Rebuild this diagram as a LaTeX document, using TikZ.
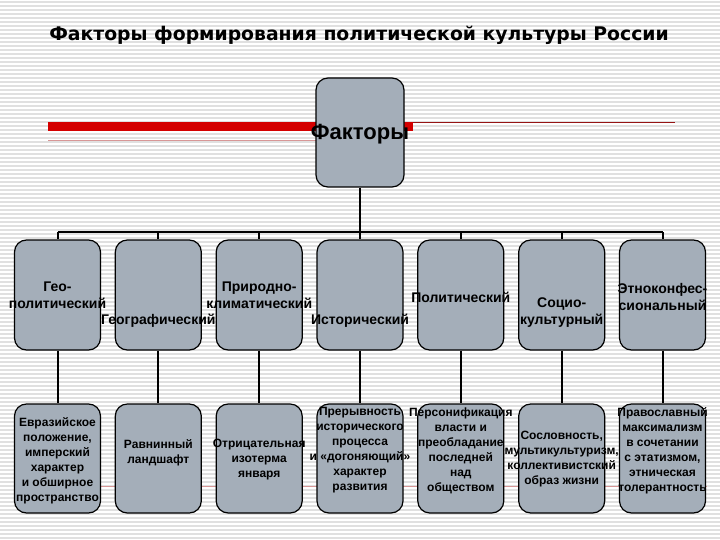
\documentclass[tikz,border=0pt]{standalone}
\usepackage{fontspec}
\setmainfont{Liberation Sans}
\newfontfamily\titlefont{DejaVu Sans}
\definecolor{boxfill}{RGB}{164,174,185}
\definecolor{barred}{RGB}{212,0,0}
\definecolor{thinred}{RGB}{150,20,20}
\definecolor{stripe}{RGB}{224,224,224}
\definecolor{faintred}{RGB}{215,150,150}
\begin{document}
\begin{tikzpicture}[x=1pt,y=-1pt,
  box/.style={draw=black, line width=1.2pt, fill=boxfill, rounded corners=12pt,
              minimum width=86pt, inner sep=0pt},
  toprow/.style={box, minimum height=110pt},
  botrow/.style={box, minimum height=109pt},
  lab/.style={inner sep=0pt, align=center, font=\bfseries\fontsize{14}{17}\selectfont},
  slab/.style={inner sep=0pt, align=center, font=\bfseries\fontsize{12}{15}\selectfont},
  conn/.style={draw=black, line width=2pt}]
\useasboundingbox (0,0) rectangle (720,540);
\fill[white] (0,0) rectangle (720,540);
\foreach \yy in {2,6,...,538} \draw[stripe, line width=1.2pt] (0,\yy) -- (720,\yy);

% title
\node[inner sep=0pt, font=\titlefont\bfseries\fontsize{18.8}{22}\selectfont] (title) at (359,35)
  {Факторы формирования политической культуры России};

% decorative lines
\draw[faintred, line width=0.8pt] (48,140) -- (316,140);
\fill[barred] (48,122) rectangle (413,131);
\draw[thinred, line width=1pt] (404,123) -- (675,123);
\draw[faintred, line width=0.8pt] (48,486) -- (707,486);

% centre box
\node[box, minimum width=88pt, minimum height=109pt] (f) at (360,132.5) {};
\fill[barred] (405,122) rectangle (413,131);
\node[inner sep=0pt, font=\bfseries\fontsize{22}{26}\selectfont] (ft) at (360,134) {Факторы};

% boxes
\foreach \i/\x in {1/57.5,2/158.3,3/259.2,4/360,5/460.8,6/561.7,7/662.5}{
  \node[toprow] (t\i) at (\x,295) {};
  \node[botrow] (b\i) at (\x,458.5) {};
}

\coordinate (bus) at (360,232);
\draw[conn] (f.south) -- (bus);
\draw[conn] (t1.north |- bus) -- (t7.north |- bus);
\foreach \i in {1,...,7}{
  \draw[conn] (t\i.north |- bus) -- (t\i.north);
  \draw[conn] (t\i.south) -- (b\i.north);
}

% top row labels
\node[lab] (l1) at (57.5,295.5) {Гео-\\политический};
\node[lab] (l2) at (158.3,321) {Географический};
\node[lab] (l3) at (259.2,295.5) {Природно-\\климатический};
\node[lab] (l4) at (360,321) {Исторический};
\node[lab] (l5) at (460.8,297) {Политический};
\node[lab] (l6) at (561.7,313) {Социо-\\культурный};
\node[lab] (l7) at (662.5,296.5) {Этноконфес-\\сиональный};

% bottom row labels
\node[slab] (m1) at (57.5,460.5) {Евразийское\\положение,\\имперский\\характер\\и обширное\\пространство};
\node[slab] (m2) at (158.3,453) {Равнинный\\ландшафт};
\node[slab] (m3) at (259.2,460) {Отрицательная\\изотерма\\января};
\node[slab] (m4) at (360,450.5) {Прерывность\\исторического\\процесса\\и «догоняющий»\\характер\\развития};
\node[slab] (m5) at (460.8,451) {Персонификация\\власти и\\преобладание\\последней\\над\\обществом};
\node[slab] (m6) at (561.7,459.5) {Сословность,\\мультикультуризм,\\коллективистский\\образ жизни};
\node[slab] (m7) at (662.5,451) {Православный\\максимализм\\в сочетании\\с этатизмом,\\этническая\\толерантность};
\end{tikzpicture}
\end{document}
